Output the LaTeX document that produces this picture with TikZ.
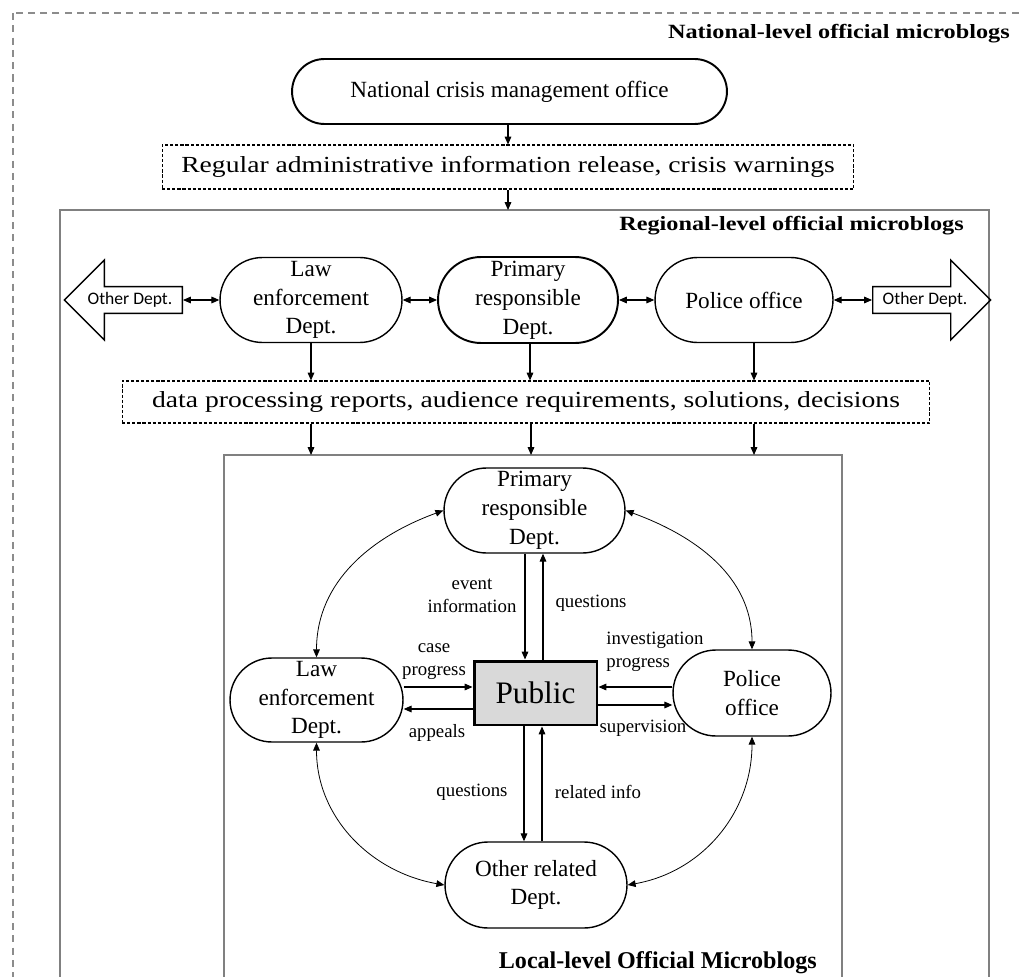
\documentclass[tikz,border=0pt]{standalone}
\usepackage{fontspec}
\setmainfont{Liberation Serif}
\newfontfamily\wideserif{Liberation Serif}[FakeStretch=1.2]
\newfontfamily\calfont{Carlito}
\usepackage{tikz}
\usetikzlibrary{arrows.meta}
\usetikzlibrary{shapes.misc}
\usetikzlibrary{shapes.arrows}

\definecolor{boxgrey}{HTML}{808080}
\definecolor{dashgrey}{HTML}{8C8C8C}
\definecolor{pubfill}{HTML}{D9D9D9}

\tikzset{
  stadium/.style={rounded rectangle, draw, line width=0.8pt, inner sep=0pt, align=center,
    font=\fontsize{13.2}{16.4}\selectfont},
  infobox/.style={draw, dash pattern=on 1.8pt off 1.1pt, line width=0.6pt, inner sep=0pt,
    font=\wideserif\fontsize{13.1}{15}\selectfont},
  levelhead/.style={inner sep=0pt, anchor=east, font=\wideserif\bfseries\fontsize{11.5}{13}\selectfont},
  lbl/.style={inner sep=0pt, align=center, font=\fontsize{10.7}{13}\selectfont},
  otherdept/.style={single arrow, draw, line width=0.8pt, single arrow head extend=0.4cm,
    minimum width=1.6cm, minimum height=2.36cm, inner sep=1pt, anchor=tail,
    font=\calfont\fontsize{10}{12}\selectfont},
  arr/.style={->, line width=0.6pt},
  twoway/.style={<->, line width=0.45pt}
}

\begin{document}
\begin{tikzpicture}[x=0.02cm,y=-0.02cm,>={Triangle[length=4.5pt,width=3.8pt]}]
\useasboundingbox (0,0) rectangle (1023,976);
\clip (0,0) rectangle (1023,976);

% level frames
\draw [dashgrey, line width=1.1pt, dash pattern=on 4pt off 3pt] (13,13) rectangle (1040,1100);
\draw [boxgrey, line width=1.4pt] (60,210) rectangle (989,1100);
\draw [boxgrey, line width=1.4pt] (224,455) rectangle (842,1100);
\coordinate (regtop) at (0,210);
\coordinate (loctop) at (0,455);

\node [levelhead] (natT) at (1010,34) {National-level official microblogs};
\node [levelhead] (regT) at (964,226) {Regional-level official microblogs};
\node [inner sep=0pt, anchor=east, font=\bfseries\fontsize{13.7}{16}\selectfont] (locT) at (817,963) {Local-level Official Microblogs};

% national level
\node [stadium, line width=1.1pt, minimum width=8.7cm, minimum height=1.3cm] (nat) at (509.5,91.5) {National crisis management office};
\node [infobox, minimum width=13.84cm, minimum height=0.88cm] (release) at (508,167) {Regular administrative information release, crisis warnings};
\draw [arr] (nat.south -| release) -- (release.north);
\draw [arr] (release.south) -- (release.south |- regtop);

% regional level
\node [stadium, minimum width=3.64cm, minimum height=1.7cm] (lawR) at (311,300) {Law\\enforcement\\Dept.};
\node [stadium, line width=1.1pt, minimum width=3.6cm, minimum height=1.72cm] (primR) at (528,300) {Primary\\responsible\\Dept.};
\node [stadium, minimum width=3.56cm, minimum height=1.7cm] (polR) at (744,300) {Police office};
\node [otherdept, shape border rotate=180] (odL) at (183,300) {Other Dept.};
\node [otherdept] (odR) at (872,300) {Other Dept.};

\draw [<->, line width=0.6pt] (odL.tail) -- (lawR.west);
\draw [<->, line width=0.6pt] (lawR.east) -- (primR.west);
\draw [<->, line width=0.6pt] (primR.east) -- (polR.west);
\draw [<->, line width=0.6pt] (polR.east) -- (odR.tail);

\node [infobox, minimum width=16.16cm, minimum height=0.84cm] (data) at (526,402) {data processing reports, audience requirements, solutions, decisions};
\draw [arr] (lawR.south) -- (lawR.south |- data.north);
\draw [arr] ([xshift=0.04cm]primR.south) -- ([xshift=0.04cm]primR.south |- data.north);
\draw [arr] ([xshift=0.2cm]polR.south) -- ([xshift=0.2cm]polR.south |- data.north);
\draw [arr] (lawR |- data.south) -- (lawR |- loctop);
\draw [arr] ([xshift=0.06cm]primR |- data.south) -- ([xshift=0.06cm]primR |- loctop);
\draw [arr] ([xshift=0.2cm]polR |- data.south) -- ([xshift=0.2cm]polR |- loctop);

% local level
\node [stadium, minimum width=3.62cm, minimum height=1.7cm] (primL) at (534.5,510.5) {Primary\\responsible\\Dept.};
\node [stadium, minimum width=3.46cm, minimum height=1.68cm] (lawL) at (316.5,700) {Law\\enforcement\\Dept.};
\node [stadium, minimum width=3.16cm, minimum height=1.72cm] (polL) at (752,693) {Police\\office};
\node [stadium, minimum width=3.64cm, minimum height=1.72cm] (othL) at (536,885) {Other related\\Dept.};
\node [draw, fill=pubfill, line width=1.7pt, minimum width=2.46cm, minimum height=1.28cm,
  font=\fontsize{17.8}{20}\selectfont] (pub) at (535.5,693) {Public};

\draw [arr] ([xshift=-0.19cm]primL.south) -- ([xshift=-0.19cm]primL.south |- pub.north);
\draw [arr] ([xshift=0.17cm]primL.south |- pub.north) -- ([xshift=0.17cm]primL.south);
\draw [arr] ([yshift=0.26cm]lawL.east) -- ([yshift=0.26cm]lawL.east -| pub.west);
\draw [arr] ([yshift=-0.18cm]lawL.east -| pub.west) -- ([yshift=-0.18cm]lawL.east);
\draw [arr] ([yshift=0.12cm]polL.west) -- ([yshift=0.12cm]polL.west -| pub.east);
\draw [arr] ([yshift=-0.24cm]polL.west -| pub.east) -- ([yshift=-0.24cm]polL.west);
\draw [arr] ([xshift=-0.24cm]othL.north |- pub.south) -- ([xshift=-0.24cm]othL.north);
\draw [arr] ([xshift=0.12cm]othL.north) -- ([xshift=0.12cm]othL.north |- pub.south);

\draw [twoway] (primL.west) to [out=200,in=90] (lawL.north);
\draw [twoway] (primL.east) to [out=-20,in=90] (polL.north);
\draw [twoway] (lawL.south) to [out=-90,in=170] (othL.west);
\draw [twoway] (polL.south) to [out=-90,in=10] (othL.east);

\node [lbl] (evL) at (472,596) {event\\information};
\node [lbl] (qsU) at (591,603) {questions};
\node [lbl] (caseL) at (434,662) {case\\progress};
\node [lbl] (appL) at (437,733) {appeals};
\node [lbl, align=left, anchor=west] (invL) at (606,652) {investigation\\progress};
\node [lbl] (supL) at (643,728) {supervision};
\node [lbl] (qsD) at (472,792) {questions};
\node [lbl] (relL) at (598,792) {related info};

\end{tikzpicture}
\end{document}
